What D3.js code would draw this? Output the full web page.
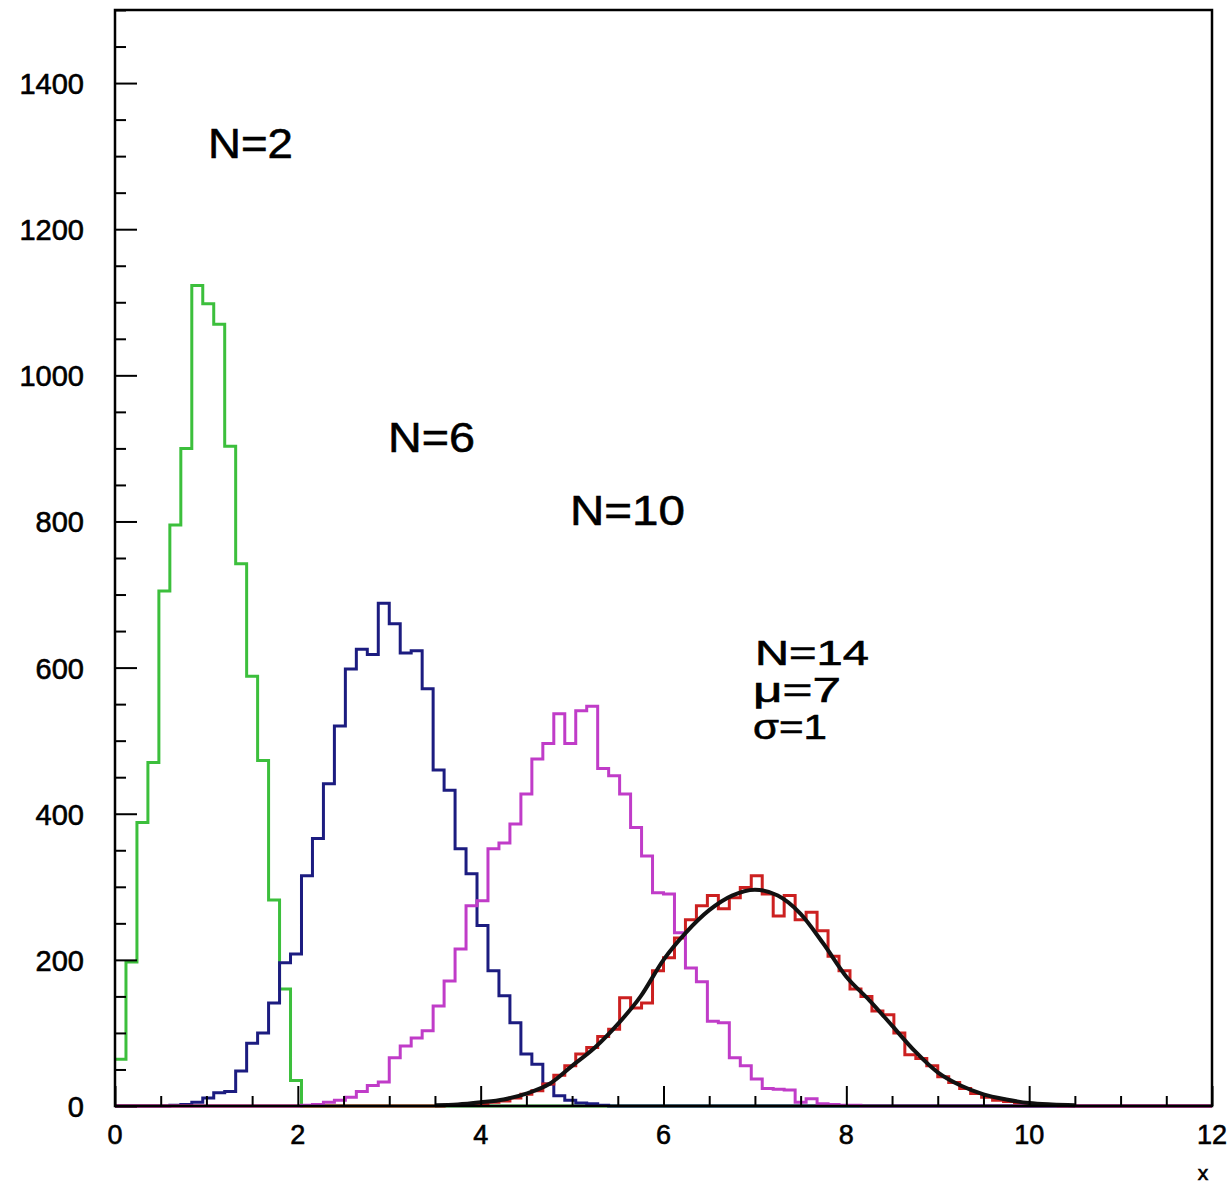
<!DOCTYPE html>
<html>
<head>
<meta charset="utf-8">
<script src="https://cdn.jsdelivr.net/npm/d3@7"></script>
<style>
  body { margin: 0; background: #fff; }
  text { font-family: "Liberation Sans", Arial, sans-serif; fill: #000; stroke: #000; stroke-width: 0.6px; }
</style>
</head>
<body>
<div id="chart"></div>
<script>
// histogram binning: 100 bins from 0 to 12
const nBins = 100;
const xMin = 0, xMax = 12;

// bin contents, starting at bin index *Start (bins outside are empty)
const greenStart = 0;
const green = [64, 197, 388, 470, 705, 795, 900, 1123, 1098, 1070, 903, 742, 588, 473, 282, 160, 35];

const blueStart = 5;
const blue = [1, 2, 5, 11, 18, 20, 48, 86, 100, 141, 196, 208, 315, 366, 441, 520, 598, 625, 618,
  688, 660, 620, 623, 571, 460, 432, 352, 318, 247, 185, 151, 114, 71, 57, 30, 14, 8, 4, 3, 1];

const magentaStart = 17;
const magenta = [1, 2, 5, 8, 12, 20, 28, 33, 66, 82, 93, 103, 137, 171, 215, 274, 281, 352, 360,
  386, 427, 475, 496, 537, 496, 541, 547, 462, 452, 427, 381, 342, 292, 290, 237, 189, 170, 116,
  114, 66, 55, 37, 24, 23, 22, 5, 10, 3, 2, 1, 1];

const redStart = 30;
const red = [1, 1, 2, 3, 5, 7, 11, 16, 21, 30, 42, 55, 71, 80, 95, 105, 148, 134, 141, 185, 203,
  230, 255, 274, 288, 270, 285, 299, 315, 290, 260, 288, 255, 265, 240, 205, 185, 160, 150, 130,
  125, 100, 70, 65, 55, 40, 32, 24, 17, 12, 8, 6, 4, 2, 2, 1];

// fitted curve
const fitX = [3.5, 3.75, 4, 4.25, 4.5, 4.75, 5, 5.25, 5.5, 5.75, 6, 6.25, 6.5, 6.75, 7, 7.25, 7.5,
  7.75, 8, 8.25, 8.5, 8.75, 9, 9.25, 9.5, 9.75, 10, 10.25, 10.5];
const fitY = [1, 2, 5, 9, 17, 30, 55, 80, 112, 150, 200, 238, 268, 288, 296, 288, 263, 222, 177,
  145, 110, 75, 46, 28, 16, 9, 4, 2, 1];

const xTicks = [0, 2, 4, 6, 8, 10, 12];
const yTicks = [0, 200, 400, 600, 800, 1000, 1200, 1400];

const svg = d3.select("#chart").append("svg").attr("width", 1230).attr("height", 1188);
svg.append("rect").attr("width", 1230).attr("height", 1188).attr("fill", "#fff");

const x = d3.scaleLinear().domain([xMin, xMax]).range([115, 1212]);
const y = d3.scaleLinear().domain([0, 1500]).range([1106, 10]);

const binW = (xMax - xMin) / nBins;

function stepPoints(values, start) {
  const pts = [];
  for (let i = 0; i < nBins; i++) {
    const k = i - start;
    const v = k >= 0 && k < values.length ? values[k] : 0;
    pts.push([xMin + i * binW, v]);
  }
  pts.push([xMax, 0]);
  return pts;
}

const step = d3.line().x(d => x(d[0])).y(d => y(d[1])).curve(d3.curveStepAfter);

const hists = [
  { vals: green, start: greenStart, color: "#3cbf3c" },
  { vals: blue, start: blueStart, color: "#1c1c80" },
  { vals: red, start: redStart, color: "#cc2020" },
  { vals: magenta, start: magentaStart, color: "#c03cc8" },
];

svg.append("g").selectAll("path")
  .data(hists)
  .enter()
  .append("path")
  .attr("d", d => step(stepPoints(d.vals, d.start)))
  .attr("fill", "none")
  .attr("stroke", d => d.color)
  .attr("stroke-width", 3);

// fit curve
const fitLine = d3.line().x(d => x(d[0])).y(d => y(d[1])).curve(d3.curveMonotoneX);
svg.append("path")
  .attr("d", fitLine(fitX.map((v, i) => [v, fitY[i]])))
  .attr("fill", "none")
  .attr("stroke", "#111")
  .attr("stroke-width", 4);

// frame
svg.append("rect")
  .attr("x", 115).attr("y", 10)
  .attr("width", 1212 - 115).attr("height", 1106 - 10)
  .attr("fill", "none")
  .attr("stroke", "#000")
  .attr("stroke-width", 2.5);

// y axis ticks (inward)
const yAxis = d3.axisRight(y).tickValues(d3.range(0, 1501, 50)).tickSize(0).tickFormat("");
const yG = svg.append("g").attr("transform", "translate(115,0)").call(yAxis);
yG.select(".domain").remove();
yG.selectAll(".tick line")
  .attr("x2", d => (d % 200 === 0 ? 22 : 11))
  .attr("stroke", "#000")
  .attr("stroke-width", 2);

svg.append("g").selectAll("text")
  .data(yTicks)
  .enter()
  .append("text")
  .attr("x", 84)
  .attr("y", d => y(d) + 11)
  .attr("text-anchor", "end")
  .style("font-size", "29px")
  .text(d => d);

// x axis ticks (inward)
const xAxis = d3.axisTop(x).tickValues(d3.range(0, 12.01, 0.5)).tickSize(0).tickFormat("");
const xG = svg.append("g").attr("transform", "translate(0,1106)").call(xAxis);
xG.select(".domain").remove();
xG.selectAll(".tick line")
  .attr("y2", d => (d % 2 === 0 ? -20 : -10))
  .attr("stroke", "#000")
  .attr("stroke-width", 2);

svg.append("g").selectAll("text")
  .data(xTicks)
  .enter()
  .append("text")
  .attr("x", d => x(d))
  .attr("y", 1144)
  .attr("text-anchor", "middle")
  .style("font-size", "27px")
  .text(d => d);

svg.append("text")
  .attr("x", 1203).attr("y", 1180)
  .attr("text-anchor", "middle")
  .style("font-size", "21px")
  .text("x");

// annotations
const labels = [
  { t: "N=2", x: 208, y: 158, s: 43, w: 85 },
  { t: "N=6", x: 388, y: 452, s: 43, w: 87 },
  { t: "N=10", x: 570, y: 525, s: 43, w: 115 },
  { t: "N=14", x: 755, y: 665, s: 35, w: 114 },
  { t: "\u03bc=7", x: 753, y: 702, s: 35, w: 88 },
  { t: "\u03c3=1", x: 753, y: 739, s: 35, w: 74 },
];
svg.append("g").selectAll("text")
  .data(labels)
  .enter()
  .append("text")
  .attr("x", d => d.x)
  .attr("y", d => d.y)
  .attr("textLength", d => d.w)
  .attr("lengthAdjust", "spacingAndGlyphs")
  .style("font-size", d => d.s + "px")
  .text(d => d.t);
</script>
</body>
</html>
